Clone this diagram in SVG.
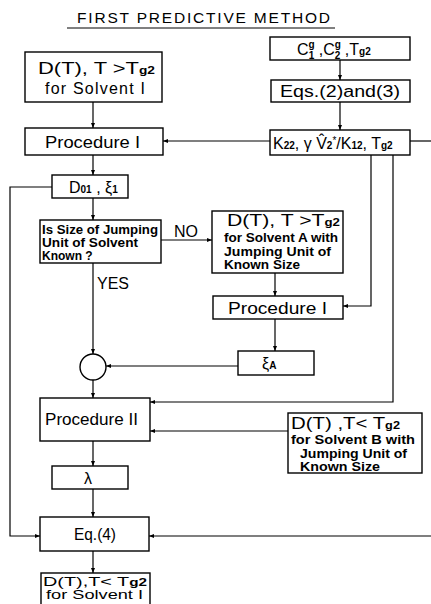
<svg xmlns="http://www.w3.org/2000/svg" width="431" height="604" viewBox="0 0 431 604">
<defs>
<marker id="ah" viewBox="0 0 10 10" refX="10" refY="5" markerWidth="5" markerHeight="5" orient="auto" markerUnits="userSpaceOnUse">
<path d="M0,1 L10,5 L0,9 z" fill="#000"/>
</marker>
<style>
.box{fill:#fff;stroke:#000;stroke-width:1.4}
.ln{fill:none;stroke:#000;stroke-width:1.2}
.ar{fill:none;stroke:#000;stroke-width:1.2;marker-end:url(#ah)}
text{font-family:"Liberation Sans",Arial,sans-serif;fill:#000}
.t{font-size:16px}
.s{font-size:12px;font-weight:bold}
.d{font-size:12px;font-weight:bold}
.sub{font-size:10px;font-weight:bold}
</style>
</defs>
<rect width="431" height="604" fill="#fff"/>
<g id="title">
<text x="77" y="23" font-size="15.5" textLength="253" lengthAdjust="spacing">FIRST PREDICTIVE METHOD</text>
<line x1="67" y1="28" x2="335" y2="28" stroke="#000" stroke-width="1"/>
</g>
<g id="connectors">
<line class="ar" x1="93" y1="102" x2="93" y2="128"/>
<line class="ar" x1="340" y1="60" x2="340" y2="80"/>
<line class="ar" x1="340" y1="102" x2="340" y2="130"/>
<line class="ar" x1="270" y1="141" x2="163" y2="141"/>
<line class="ln" x1="410" y1="141" x2="431" y2="141"/>
<line class="ar" x1="93" y1="155" x2="93" y2="175"/>
<line class="ar" x1="93" y1="198" x2="93" y2="220"/>
<polyline class="ar" points="52,187 10,187 10,536 40,536"/>
<line class="ar" x1="161" y1="240" x2="212" y2="240"/>
<line class="ar" x1="275" y1="273" x2="275" y2="296"/>
<polyline class="ar" points="371,155 371,306 343,306"/>
<line class="ar" x1="275" y1="319" x2="275" y2="351"/>
<line class="ar" x1="238" y1="366" x2="106" y2="366"/>
<line class="ar" x1="93" y1="263" x2="93" y2="354"/>
<line class="ar" x1="93" y1="380" x2="93" y2="398"/>
<polyline class="ar" points="393,155 393,402 150,402"/>
<line class="ar" x1="288" y1="431" x2="150" y2="431"/>
<line class="ar" x1="93" y1="441" x2="93" y2="466"/>
<line class="ar" x1="93" y1="489" x2="93" y2="517"/>
<line class="ar" x1="431" y1="536" x2="149" y2="536"/>
<line class="ar" x1="93" y1="551" x2="93" y2="573"/>
</g>
<g id="box1">
<rect class="box" x="25" y="52" width="137" height="50"/>
<text class="t" x="38" y="74" font-size="17" textLength="117" lengthAdjust="spacingAndGlyphs">D(T), T &gt;T<tspan class="sub">g2</tspan></text>
<text class="t" x="45" y="94" textLength="100" lengthAdjust="spacing">for  Solvent  I</text>
</g>
<g id="cbox">
<rect class="box" x="270" y="37" width="140" height="23"/>
<text class="t" x="297" y="55">C<tspan class="sub" dy="-7">g</tspan><tspan class="sub" dx="-6" dy="11">1</tspan><tspan dy="-4"> ,C</tspan><tspan class="sub" dy="-7">g</tspan><tspan class="sub" dx="-6" dy="11">2</tspan><tspan dy="-4"> ,T</tspan><tspan class="sub">g2</tspan></text>
</g>
<g id="eqs">
<rect class="box" x="271" y="80" width="139" height="22"/>
<text class="t" x="280" y="97" font-size="17" textLength="120" lengthAdjust="spacingAndGlyphs">Eqs.(2)and(3)</text>
</g>
<g id="k22">
<rect class="box" x="270" y="130" width="140" height="25"/>
<text class="t" x="273" y="149">K<tspan class="sub">22</tspan>, γ V̂<tspan class="sub">2</tspan><tspan dy="-5" font-size="10">*</tspan><tspan dy="5">/K</tspan><tspan class="sub">12</tspan>, T<tspan class="sub">g2</tspan></text>
</g>
<g id="proc1">
<rect class="box" x="25" y="128" width="138" height="27"/>
<text class="t" x="45" y="148" font-size="17" textLength="95" lengthAdjust="spacingAndGlyphs">Procedure  I</text>
</g>
<g id="d01">
<rect class="box" x="52" y="175" width="76" height="23"/>
<text class="t" x="69" y="193">D<tspan class="sub">01</tspan> , ξ<tspan class="sub">1</tspan></text>
</g>
<g id="decision">
<rect class="box" x="40" y="220" width="121" height="43"/>
<text class="d" x="42" y="234" textLength="116" lengthAdjust="spacingAndGlyphs">Is Size of Jumping</text>
<text class="d" x="42" y="247" textLength="96" lengthAdjust="spacingAndGlyphs">Unit of Solvent</text>
<text class="d" x="42" y="260">Known ?</text>
<text class="t" x="174" y="237">NO</text>
<text class="t" x="97" y="289">YES</text>
</g>
<g id="boxA">
<rect class="box" x="212" y="211" width="131" height="62"/>
<text class="t" x="227" y="226" font-size="17" textLength="113" lengthAdjust="spacingAndGlyphs">D(T),  T &gt;T<tspan class="sub">g2</tspan></text>
<text class="s" x="224" y="242" textLength="114" lengthAdjust="spacingAndGlyphs">for  Solvent A with</text>
<text class="s" x="224" y="256" textLength="107" lengthAdjust="spacingAndGlyphs">Jumping Unit of</text>
<text class="s" x="224" y="269" textLength="76" lengthAdjust="spacingAndGlyphs">Known  Size</text>
</g>
<g id="proc1b">
<rect class="box" x="213" y="296" width="130" height="23"/>
<text class="t" x="228" y="314" font-size="17" textLength="99" lengthAdjust="spacingAndGlyphs">Procedure  I</text>
</g>
<g id="xiA">
<rect class="box" x="238" y="351" width="76" height="24"/>
<text class="t" x="262" y="369">ξ<tspan class="sub">A</tspan></text>
</g>
<g id="circle">
<circle cx="93" cy="367" r="13" fill="#fff" stroke="#000" stroke-width="1.4"/>
</g>
<g id="proc2">
<rect class="box" x="40" y="398" width="110" height="43"/>
<text class="t" x="45" y="425" font-size="17" textLength="93" lengthAdjust="spacingAndGlyphs">Procedure  II</text>
</g>
<g id="boxB">
<rect class="box" x="288" y="413" width="134" height="60"/>
<text class="t" x="291" y="429" font-size="17" textLength="109" lengthAdjust="spacingAndGlyphs">D(T) ,T&lt; T<tspan class="sub">g2</tspan></text>
<text class="s" x="291" y="444" textLength="124" lengthAdjust="spacingAndGlyphs">for  Solvent  B with</text>
<text class="s" x="300" y="458" textLength="107" lengthAdjust="spacingAndGlyphs">Jumping Unit  of</text>
<text class="s" x="300" y="471" textLength="80" lengthAdjust="spacingAndGlyphs">Known  Size</text>
</g>
<g id="lambda">
<rect class="box" x="52" y="466" width="76" height="23"/>
<text class="t" x="84" y="484">λ</text>
</g>
<g id="eq4">
<rect class="box" x="40" y="517" width="109" height="34"/>
<text class="t" x="74" y="540" font-size="17" textLength="42" lengthAdjust="spacingAndGlyphs">Eq.(4)</text>
</g>
<g id="final">
<rect class="box" x="41" y="573" width="109" height="34"/>
<text x="43" y="586" font-size="13" textLength="104" lengthAdjust="spacingAndGlyphs">D(T),T&lt; T<tspan class="sub">g2</tspan></text>
<text x="46" y="599" font-size="12" textLength="97" lengthAdjust="spacingAndGlyphs">for  Solvent  I</text>
</g>
</svg>
